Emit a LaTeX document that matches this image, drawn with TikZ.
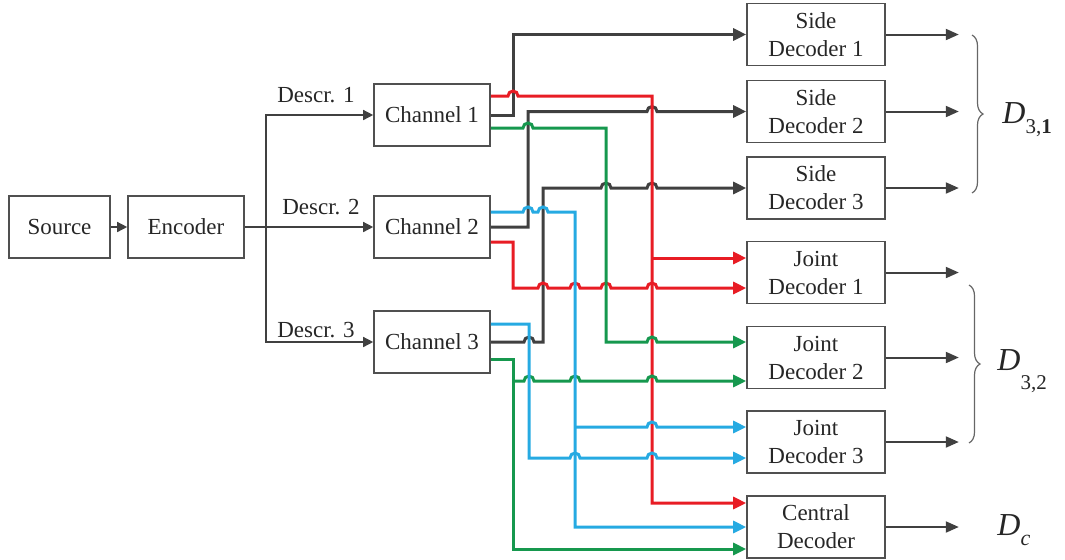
\documentclass[tikz,border=0pt]{standalone}
\usepackage{fontspec}
\setmainfont{Liberation Serif}
\usetikzlibrary{arrows.meta,decorations.pathreplacing}
\definecolor{wred}{RGB}{232,28,36}
\definecolor{wgreen}{RGB}{22,152,78}
\definecolor{wblue}{RGB}{38,170,226}
\definecolor{wgray}{RGB}{64,64,64}
\definecolor{bgray}{RGB}{80,80,80}
\begin{document}
\begin{tikzpicture}[x=0.5pt,y=-0.5pt,
  box/.style={draw=bgray,line width=0.8pt,minimum height=31pt,inner sep=1pt,align=center,
    font=\fontsize{11.5}{14}\selectfont,text=black!85},
  lbl/.style={font=\fontsize{11.5}{14}\selectfont,text=black!85,inner sep=0pt},
  thinarr/.style={draw=wgray,line width=0.7pt,-{Triangle[length=5pt,width=5pt]}},
  wire/.style={line width=1.5pt,-{Triangle[length=6.5pt,width=6pt]}},
  outarr/.style={draw=wgray,line width=1pt,-{Triangle[length=6.5pt,width=5.5pt]}},
  brc/.style={draw=black!60,line width=0.6pt,decorate,decoration={brace,amplitude=5.5pt}},
  dlab/.style={anchor=base west,inner sep=0pt,text=black!85,font=\fontsize{16}{18}\selectfont}]
\useasboundingbox (0,0) rectangle (1065,559);
% left part
\node[box,minimum width=50.5pt] (src) at (59.5,227) {Source};
\node[box,minimum width=58pt] (enc) at (186,227) {Encoder};
\node[box,minimum width=58pt] (ch1) at (432,115) {Channel 1};
\node[box,minimum width=58pt] (ch2) at (432,227) {Channel 2};
\node[box,minimum width=58pt] (ch3) at (432,342) {Channel 3};
\node[lbl] (d1) at (316,95) {Descr. 1};
\node[lbl] (d2) at (321,207) {Descr. 2};
\node[lbl] (d3) at (316,330) {Descr. 3};
% decoders
\node[box,minimum width=69pt] (sd1) at (816,34.5) {Side\\Decoder 1};
\node[box,minimum width=69pt] (sd2) at (816,111.5) {Side\\Decoder 2};
\node[box,minimum width=69pt] (sd3) at (816,188) {Side\\Decoder 3};
\node[box,minimum width=69pt] (jd1) at (816,272.5) {Joint\\Decoder 1};
\node[box,minimum width=69pt] (jd2) at (816,357.5) {Joint\\Decoder 2};
\node[box,minimum width=69pt] (jd3) at (816,442) {Joint\\Decoder 3};
\node[box,minimum width=69pt] (cd) at (816,527) {Central\\Decoder};
% thin arrows
\coordinate (sp) at (266,227);
\draw[thinarr] (src) -- (enc);
\draw[thinarr] (enc) -- (ch2);
\draw[thinarr] (sp) |- (ch1.west);
\draw[thinarr] (sp) |- (ch3.west);
% gray wires
\draw[wire,wgray] (ch1.east) -- (513,115) -- (513,34.5) -- (sd1.west);
\draw[wire,wgray] (ch2.east) -- (528,227) -- (528,111.5) -- (647,111.5)
  arc[start angle=180,end angle=0,radius=2.5pt] -- (sd2.west);
\draw[wire,wgray] (ch3.east) -- (524,342) arc[start angle=180,end angle=0,radius=2.5pt]
  -- (543,342) -- (543,188) -- (601,188) arc[start angle=180,end angle=0,radius=2.5pt]
  -- (647,188) arc[start angle=180,end angle=0,radius=2.5pt] -- (sd3.west);
% red wires
\draw[wire,wred] (ch1.east |- 0,96) -- (508,96) arc[start angle=180,end angle=0,radius=2.5pt]
  -- (652,96) -- (652,503) -- (cd.west |- 0,503);
\coordinate (rj) at (652,258);
\draw[wire,wred] (rj) -- (jd1.west |- rj);
\draw[wire,wred] (ch2.east |- 0,242) -- (513,242) -- (513,288)
  -- (538,288) arc[start angle=180,end angle=0,radius=2.5pt]
  -- (570,288) arc[start angle=180,end angle=0,radius=2.5pt]
  -- (601,288) arc[start angle=180,end angle=0,radius=2.5pt]
  -- (647,288) arc[start angle=180,end angle=0,radius=2.5pt] -- (jd1.west |- 0,288);
% green wires
\draw[wire,wgreen] (ch1.east |- 0,128) -- (523,128) arc[start angle=180,end angle=0,radius=2.5pt]
  -- (606,128) -- (606,342) -- (647,342) arc[start angle=180,end angle=0,radius=2.5pt]
  -- (jd2.west |- 0,342);
\draw[wire,wgreen] (ch3.east |- 0,359) -- (513,359) -- (513,549) -- (cd.west |- 0,549);
\coordinate (gj) at (513,381);
\draw[wire,wgreen] (gj) -- (524,381) arc[start angle=180,end angle=0,radius=2.5pt]
  -- (570,381) arc[start angle=180,end angle=0,radius=2.5pt]
  -- (647,381) arc[start angle=180,end angle=0,radius=2.5pt] -- (jd2.west |- gj);
% blue wires
\draw[wire,wblue] (ch2.east |- 0,212) -- (523,212) arc[start angle=180,end angle=0,radius=2.5pt]
  -- (538,212) arc[start angle=180,end angle=0,radius=2.5pt]
  -- (575,212) -- (575,527) -- (cd.west |- 0,527);
\coordinate (bj) at (575,427);
\draw[wire,wblue] (bj) -- (647,427) arc[start angle=180,end angle=0,radius=2.5pt] -- (jd3.west |- bj);
\draw[wire,wblue] (ch3.east |- 0,324) -- (529,324) -- (529,458)
  -- (570,458) arc[start angle=180,end angle=0,radius=2.5pt]
  -- (647,458) arc[start angle=180,end angle=0,radius=2.5pt] -- (jd3.west |- 0,458);
% outputs
\foreach \n in {sd1,sd2,sd3,jd1,jd2,jd3,cd}{
  \coordinate (o\n) at ([xshift=36.5pt]\n.east);
  \draw[outarr] (\n.east) -- (o\n);
}
% braces
\coordinate (b1a) at (972,35); \coordinate (b1b) at (972,193);
\coordinate (b2a) at (969,285); \coordinate (b2b) at (969,443);
\draw[brc] (b1a) -- (b1b);
\draw[brc] (b2a) -- (b2b);
\node[dlab] (D31) at (1002,123) {\textit{D}\raisebox{-5pt}{\fontsize{10.5}{11}\selectfont 3,\textbf{1}}};
\node[dlab] (D32) at (997,370) {\textit{D}\raisebox{-9.5pt}{\fontsize{10.5}{11}\selectfont 3,2}};
\node[dlab] (Dc) at (997,535) {\textit{D}\raisebox{-5pt}{\fontsize{11}{11}\selectfont\itshape c}};
\end{tikzpicture}
\end{document}
